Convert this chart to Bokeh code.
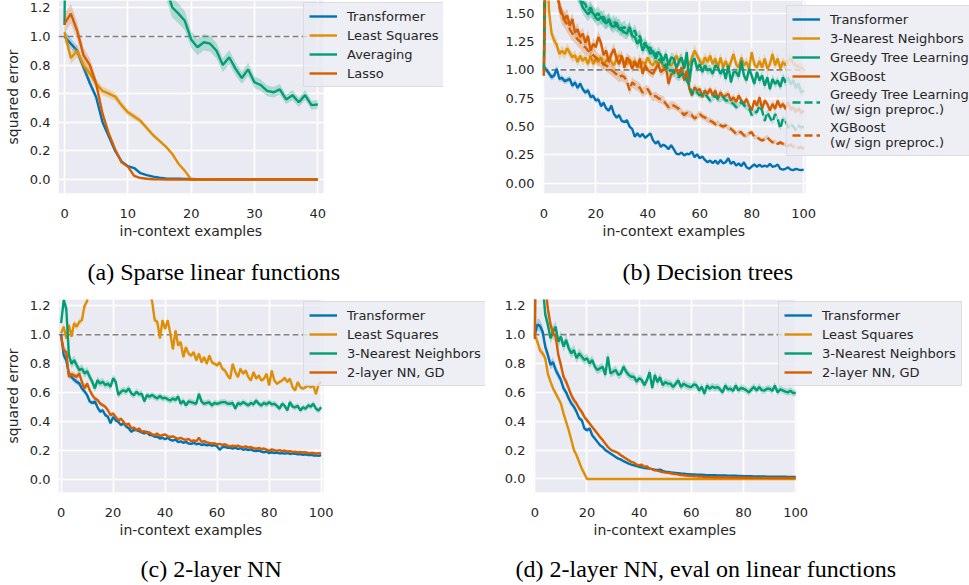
import numpy as np
from bokeh.plotting import figure
from bokeh.layouts import column, row
from bokeh.models import (Range1d, FixedTicker, PrintfTickFormatter, BoxAnnotation,
                          Legend, LegendItem, Title)
from bokeh.embed import file_html
from bokeh.resources import INLINE

BLUE = "#0173B2"
ORANGE = "#DE8F05"
GREEN = "#029E73"
RED = "#D55E00"
TXT = "#262626"

# ---------------- (a) Sparse linear functions ----------------
a_xticks = [0, 10, 20, 30, 40]
a_yticks = [0.0, 0.2, 0.4, 0.6, 0.8, 1.0, 1.2]
a_transformer = [1.00, 0.95, 0.90, 0.785, 0.675, 0.575, 0.40, 0.30, 0.20, 0.126,
                 0.093, 0.08, 0.044, 0.03, 0.02, 0.012, 0.008, 0.006, 0.005, 0.004,
                 0.003, 0.002, 0.001, 0.001, 0.0, 0.0, 0.0, 0.0, 0.0, 0.0,
                 0.0, 0.0, 0.0, 0.0, 0.0, 0.0, 0.0, 0.0, 0.0, 0.0,
                 0.0]
a_least_squares = [1.03, 0.85, 0.90, 0.80, 0.74, 0.67, 0.62, 0.60, 0.58, 0.52,
                   0.47, 0.44, 0.41, 0.36, 0.31, 0.27, 0.23, 0.18, 0.11, 0.06,
                   0.0, 0.0, 0.0, 0.0, 0.0, 0.0, 0.0, 0.0, 0.0, 0.0,
                   0.0, 0.0, 0.0, 0.0, 0.0, 0.0, 0.0, 0.0, 0.0, 0.0,
                   0.0]
a_averaging = [1.08, 6.0, 4.5, 3.6, 3.0, 2.6, 2.3, 2.1, 1.95, 1.8,
               1.7, 1.62, 1.55, 1.49, 1.44, 1.40, 1.35, 1.205, 1.16, 1.11,
               0.98, 0.925, 0.96, 0.95, 0.90, 0.80, 0.855, 0.775, 0.71, 0.77,
               0.68, 0.66, 0.62, 0.61, 0.63, 0.56, 0.59, 0.54, 0.59, 0.52,
               0.525]
a_lasso = [1.09, 1.16, 1.04, 0.87, 0.80, 0.67, 0.46, 0.32, 0.21, 0.12,
           0.09, 0.025, 0.01, 0.005, 0.002, 0.001, 0.0, 0.0, 0.0, 0.0,
           0.0, 0.0, 0.0, 0.0, 0.0, 0.0, 0.0, 0.0, 0.0, 0.0,
           0.0, 0.0, 0.0, 0.0, 0.0, 0.0, 0.0, 0.0, 0.0, 0.0,
           0.0]

# ---------------- (b) Decision trees ----------------
b_xticks = [0, 20, 40, 60, 80, 100]
b_yticks = [0.0, 0.25, 0.5, 0.75, 1.0, 1.25, 1.5]
b_transformer = [1.03, 1.00, 0.97, 0.935, 0.95, 1.01, 0.92, 0.93, 0.90, 0.91,
                 0.92, 0.86, 0.89, 0.84, 0.88, 0.83, 0.80, 0.82, 0.76, 0.77,
                 0.73, 0.74, 0.68, 0.71, 0.66, 0.64, 0.685, 0.61, 0.58, 0.60,
                 0.55, 0.54, 0.555, 0.50, 0.48, 0.41, 0.44, 0.41, 0.435, 0.40,
                 0.42, 0.44, 0.38, 0.35, 0.37, 0.32, 0.34, 0.325, 0.30, 0.335,
                 0.30, 0.26, 0.255, 0.27, 0.245, 0.26, 0.255, 0.28, 0.23, 0.255,
                 0.22, 0.235, 0.205, 0.185, 0.20, 0.177, 0.20, 0.17, 0.205, 0.175,
                 0.185, 0.22, 0.17, 0.19, 0.155, 0.175, 0.15, 0.185, 0.14, 0.127,
                 0.147, 0.165, 0.145, 0.163, 0.145, 0.155, 0.145, 0.17, 0.145, 0.15,
                 0.165, 0.127, 0.12, 0.127, 0.14, 0.12, 0.115, 0.127, 0.12, 0.115,
                 0.12]
b_knn = [0.95, 2.2, 1.52, 1.32, 1.26, 1.22, 1.14, 1.17, 1.14, 1.19,
         1.15, 1.11, 1.13, 1.07, 1.125, 1.08, 1.11, 1.05, 1.125, 1.05,
         1.10, 1.07, 1.11, 1.04, 1.08, 1.11, 1.07, 1.04, 1.10, 1.13,
         1.11, 1.06, 1.05, 1.09, 1.06, 1.08, 1.04, 1.02, 1.07, 1.05,
         1.11, 1.06, 1.04, 1.08, 1.05, 1.08, 1.03, 1.02, 1.06, 1.04,
         1.07, 1.126, 1.07, 1.11, 1.02, 1.08, 1.04, 1.11, 1.17, 1.126,
         1.08, 1.05, 1.11, 1.07, 1.126, 1.05, 1.10, 1.02, 1.11, 1.02,
         1.08, 1.01, 1.07, 1.14, 1.05, 1.02, 1.11, 1.04, 1.07, 1.01,
         1.156, 1.05, 1.02, 1.08, 1.02, 1.10, 1.01, 1.05, 1.14, 1.04,
         1.10, 1.01, 1.07, 1.04, 1.08, 1.10, 1.06, 1.04, 1.03, 1.02,
         1.01]
b_greedy = [1.0, 3.0, 2.6, 2.4, 2.2, 2.1, 2.0, 1.95, 1.9, 1.85,
            1.80, 1.75, 1.72, 1.68, 1.62, 1.55, 1.52, 1.49, 1.52, 1.50,
            1.46, 1.44, 1.47, 1.43, 1.41, 1.44, 1.39, 1.38, 1.42, 1.36,
            1.35, 1.33, 1.32, 1.38, 1.30, 1.29, 1.23, 1.27, 1.17, 1.22,
            1.20, 1.14, 1.17, 1.10, 1.16, 1.13, 1.08, 1.14, 1.04, 1.11,
            1.10, 1.02, 1.07, 1.11, 1.01, 1.156, 0.89, 1.07, 1.10, 1.01,
            1.05, 0.98, 1.04, 0.994, 1.01, 0.965, 1.04, 1.02, 0.965, 1.01,
            0.92, 1.04, 0.89, 0.98, 0.98, 0.94, 1.08, 0.95, 0.906, 1.01,
            0.95, 0.876, 0.98, 0.906, 0.95, 0.86, 0.935, 0.83, 0.92, 0.876,
            0.906, 0.85, 0.935, 0.89, 0.935, 0.87, 0.91, 0.84, 0.88, 0.80,
            0.82]
b_xgboost = [0.95, 2.8, 2.4, 2.1, 1.9, 1.7, 1.57, 1.495, 1.45, 1.48,
             1.39, 1.45, 1.33, 1.36, 1.29, 1.32, 1.24, 1.30, 1.17, 1.23,
             1.20, 1.29, 1.24, 1.13, 1.17, 1.07, 1.14, 1.185, 1.10, 1.05,
             1.126, 1.02, 1.11, 1.08, 1.01, 1.07, 1.024, 1.10, 0.965, 1.04,
             1.00, 0.98, 0.965, 1.01, 1.05, 0.98, 1.00, 1.024, 0.876, 0.96,
             0.98, 1.01, 0.95, 1.024, 0.906, 0.994, 0.832, 0.774, 0.847, 0.818,
             0.832, 0.759, 0.818, 0.788, 0.832, 0.774, 0.818, 0.744, 0.803, 0.759,
             0.774, 0.788, 0.729, 0.759, 0.715, 0.774, 0.729, 0.70, 0.744, 0.685,
             0.641, 0.729, 0.685, 0.759, 0.656, 0.729, 0.70, 0.641, 0.70, 0.656,
             0.729, 0.67, 0.70, 0.656, 0.715, 0.65, 0.67, 0.63, 0.66, 0.62,
             0.64]
b_greedy_sign = [1.0, 3.5, 3.0, 2.7, 2.4, 2.2, 2.05, 1.95, 1.88, 1.82,
                 1.78, 1.74, 1.70, 1.67, 1.64, 1.60, 1.58, 1.52, 1.55, 1.50,
                 1.48, 1.50, 1.45, 1.47, 1.42, 1.45, 1.40, 1.43, 1.38, 1.40,
                 1.36, 1.38, 1.34, 1.36, 1.31, 1.35, 1.28, 1.30, 1.22, 1.24,
                 1.18, 1.20, 1.12, 1.15, 1.08, 1.10, 1.03, 1.05, 0.98, 1.00,
                 0.98, 0.95, 0.935, 0.96, 0.965, 0.906, 0.87, 0.788, 0.818, 0.80,
                 0.774, 0.79, 0.788, 0.76, 0.729, 0.75, 0.774, 0.74, 0.744, 0.76,
                 0.729, 0.73, 0.715, 0.70, 0.67, 0.69, 0.715, 0.69, 0.67, 0.66,
                 0.60, 0.63, 0.626, 0.685, 0.641, 0.55, 0.626, 0.58, 0.54, 0.61,
                 0.57, 0.48, 0.57, 0.55, 0.49, 0.52, 0.50, 0.47, 0.51, 0.49,
                 0.50]
b_xgboost_sign = [0.95, 3.0, 2.5, 2.2, 1.9, 1.7, 1.55, 1.47, 1.44, 1.40,
                  1.36, 1.32, 1.30, 1.27, 1.25, 1.21, 1.20, 1.17, 1.156, 1.13,
                  1.11, 1.09, 1.07, 1.05, 1.04, 1.02, 1.00, 0.98, 0.96, 0.935,
                  0.95, 0.935, 0.90, 0.82, 0.89, 0.87, 0.86, 0.84, 0.80, 0.82,
                  0.83, 0.79, 0.76, 0.77, 0.75, 0.74, 0.73, 0.70, 0.67, 0.69,
                  0.685, 0.67, 0.656, 0.63, 0.60, 0.62, 0.61, 0.60, 0.57, 0.59,
                  0.61, 0.59, 0.58, 0.56, 0.55, 0.54, 0.52, 0.53, 0.51, 0.50,
                  0.51, 0.49, 0.48, 0.46, 0.435, 0.45, 0.45, 0.42, 0.42, 0.44,
                  0.45, 0.41, 0.405, 0.39, 0.376, 0.39, 0.405, 0.38, 0.36, 0.37,
                  0.347, 0.36, 0.347, 0.34, 0.33, 0.34, 0.32, 0.33, 0.31, 0.32,
                  0.30]

# ---------------- (c) 2-layer NN ----------------
c_xticks = [0, 20, 40, 60, 80, 100]
c_yticks = [0.0, 0.2, 0.4, 0.6, 0.8, 1.0, 1.2]
c_transformer = [1.00, 0.86, 0.825, 0.73, 0.71, 0.69, 0.675, 0.665, 0.63, 0.61,
                 0.585, 0.54, 0.53, 0.54, 0.50, 0.47, 0.48, 0.446, 0.435, 0.389,
                 0.434, 0.41, 0.40, 0.377, 0.39, 0.367, 0.355, 0.331, 0.343, 0.343,
                 0.336, 0.327, 0.32, 0.331, 0.308, 0.308, 0.297, 0.297, 0.285, 0.29,
                 0.28, 0.29, 0.275, 0.27, 0.278, 0.26, 0.265, 0.255, 0.262, 0.25,
                 0.248, 0.255, 0.245, 0.25, 0.24, 0.245, 0.238, 0.242, 0.235, 0.24,
                 0.23, 0.207, 0.225, 0.228, 0.22, 0.22, 0.215, 0.222, 0.212, 0.218,
                 0.207, 0.212, 0.205, 0.21, 0.20, 0.198, 0.202, 0.195, 0.19, 0.195,
                 0.184, 0.19, 0.185, 0.188, 0.182, 0.184, 0.18, 0.185, 0.178, 0.182,
                 0.18, 0.175, 0.178, 0.172, 0.176, 0.17, 0.172, 0.168, 0.168, 0.165,
                 0.17]
c_least_squares = [1.01, 1.055, 0.975, 1.067, 0.986, 1.08, 1.055, 1.09, 1.10, 1.20,
                   1.23, 1.45, 1.7, 2.0, 2.5, 3.0, 4.0, 5.5, 8.0, 15.0,
                   30.0, 15.0, 8.0, 5.5, 4.0, 3.2, 2.6, 2.2, 1.95, 1.75,
                   1.6, 1.5, 1.42, 1.36, 1.30, 1.23, 1.10, 1.09, 0.975, 1.10,
                   1.04, 1.10, 1.007, 0.90, 1.03, 0.926, 0.95, 0.846, 0.915, 0.87,
                   0.857, 0.88, 0.823, 0.87, 0.81, 0.846, 0.80, 0.857, 0.81, 0.80,
                   0.789, 0.81, 0.766, 0.754, 0.72, 0.697, 0.80, 0.743, 0.708, 0.766,
                   0.731, 0.754, 0.708, 0.685, 0.743, 0.697, 0.72, 0.685, 0.697, 0.731,
                   0.65, 0.754, 0.685, 0.662, 0.674, 0.685, 0.703, 0.674, 0.697, 0.639,
                   0.616, 0.674, 0.639, 0.628, 0.639, 0.65, 0.639, 0.65, 0.59, 0.662,
                   0.674]
c_knn = [1.08, 1.24, 1.18, 0.86, 0.80, 0.825, 0.79, 0.756, 0.768, 0.733,
         0.75, 0.71, 0.676, 0.63, 0.687, 0.664, 0.676, 0.653, 0.664, 0.641,
         0.70, 0.676, 0.584, 0.607, 0.618, 0.607, 0.63, 0.595, 0.584, 0.607,
         0.589, 0.595, 0.54, 0.584, 0.572, 0.584, 0.572, 0.561, 0.579, 0.561,
         0.566, 0.555, 0.547, 0.56, 0.55, 0.575, 0.524, 0.545, 0.513, 0.54,
         0.536, 0.53, 0.524, 0.593, 0.54, 0.524, 0.53, 0.535, 0.513, 0.53,
         0.524, 0.53, 0.536, 0.536, 0.525, 0.524, 0.53, 0.49, 0.53, 0.52,
         0.536, 0.525, 0.513, 0.53, 0.52, 0.547, 0.525, 0.513, 0.53, 0.52,
         0.536, 0.52, 0.524, 0.51, 0.49, 0.524, 0.51, 0.478, 0.536, 0.505,
         0.50, 0.51, 0.478, 0.50, 0.49, 0.513, 0.505, 0.524, 0.49, 0.478,
         0.50]
c_nn_gd = [0.99, 0.895, 0.88, 0.71, 0.73, 0.72, 0.71, 0.733, 0.676, 0.63,
           0.664, 0.618, 0.584, 0.56, 0.55, 0.526, 0.515, 0.503, 0.48, 0.446,
           0.457, 0.434, 0.411, 0.42, 0.40, 0.377, 0.388, 0.354, 0.36, 0.343,
           0.354, 0.331, 0.336, 0.32, 0.327, 0.313, 0.308, 0.319, 0.302, 0.308,
           0.313, 0.30, 0.295, 0.30, 0.29, 0.283, 0.29, 0.28, 0.275, 0.282,
           0.267, 0.272, 0.265, 0.29, 0.262, 0.267, 0.258, 0.255, 0.25, 0.252,
           0.244, 0.248, 0.24, 0.245, 0.236, 0.23, 0.235, 0.232, 0.236, 0.228,
           0.225, 0.23, 0.222, 0.226, 0.218, 0.214, 0.22, 0.212, 0.216, 0.208,
           0.20, 0.21, 0.204, 0.20, 0.205, 0.198, 0.202, 0.195, 0.198, 0.192,
           0.194, 0.19, 0.192, 0.188, 0.19, 0.184, 0.186, 0.185, 0.18, 0.184,
           0.182]

# ---------------- (d) 2-layer NN, eval on linear functions ----------------
d_xticks = [0, 20, 40, 60, 80, 100]
d_yticks = [0.0, 0.2, 0.4, 0.6, 0.8, 1.0, 1.2]
d_transformer = [1.0, 1.07, 1.06, 1.02, 0.917, 0.86, 0.79, 0.81, 0.755, 0.72,
                 0.685, 0.627, 0.60, 0.558, 0.523, 0.50, 0.465, 0.42, 0.407, 0.35,
                 0.338, 0.35, 0.303, 0.28, 0.257, 0.234, 0.222, 0.20, 0.188, 0.176,
                 0.164, 0.152, 0.141, 0.135, 0.123, 0.115, 0.106, 0.10, 0.095, 0.09,
                 0.083, 0.08, 0.076, 0.074, 0.072, 0.068, 0.064, 0.062, 0.065, 0.056,
                 0.05, 0.048, 0.046, 0.044, 0.042, 0.04, 0.038, 0.037, 0.035, 0.034,
                 0.032, 0.031, 0.030, 0.029, 0.029, 0.028, 0.027, 0.027, 0.026, 0.026,
                 0.025, 0.025, 0.024, 0.024, 0.023, 0.023, 0.022, 0.022, 0.021, 0.021,
                 0.02, 0.02, 0.019, 0.019, 0.018, 0.018, 0.018, 0.017, 0.017, 0.016,
                 0.016, 0.016, 0.016, 0.015, 0.015, 0.015, 0.015, 0.014, 0.014, 0.014,
                 0.014]
d_least_squares = [1.0, 0.95, 0.89, 0.87, 0.836, 0.73, 0.674, 0.627, 0.593, 0.558,
                   0.523, 0.454, 0.396, 0.338, 0.27, 0.20, 0.164, 0.118, 0.072, 0.037,
                   0.0, 0.0, 0.0, 0.0, 0.0, 0.0, 0.0, 0.0, 0.0, 0.0,
                   0.0, 0.0, 0.0, 0.0, 0.0, 0.0, 0.0, 0.0, 0.0, 0.0,
                   0.0, 0.0, 0.0, 0.0, 0.0, 0.0, 0.0, 0.0, 0.0, 0.0,
                   0.0, 0.0, 0.0, 0.0, 0.0, 0.0, 0.0, 0.0, 0.0, 0.0,
                   0.0, 0.0, 0.0, 0.0, 0.0, 0.0, 0.0, 0.0, 0.0, 0.0,
                   0.0, 0.0, 0.0, 0.0, 0.0, 0.0, 0.0, 0.0, 0.0, 0.0,
                   0.0, 0.0, 0.0, 0.0, 0.0, 0.0, 0.0, 0.0, 0.0, 0.0,
                   0.0, 0.0, 0.0, 0.0, 0.0, 0.0, 0.0, 0.0, 0.0, 0.0,
                   0.0]
d_knn = [0.975, 3.5, 2.0, 1.35, 1.14, 1.07, 0.975, 1.02, 1.055, 0.95,
         0.986, 0.917, 0.963, 0.905, 0.87, 0.893, 0.836, 0.87, 0.847, 0.824,
         0.836, 0.80, 0.824, 0.778, 0.755, 0.766, 0.778, 0.72, 0.847, 0.73,
         0.743, 0.755, 0.72, 0.73, 0.778, 0.743, 0.72, 0.708, 0.708, 0.674,
         0.697, 0.685, 0.65, 0.685, 0.74, 0.63, 0.72, 0.671, 0.706, 0.65,
         0.671, 0.66, 0.66, 0.637, 0.66, 0.683, 0.637, 0.66, 0.648, 0.64,
         0.637, 0.655, 0.648, 0.613, 0.64, 0.59, 0.648, 0.625, 0.64, 0.63,
         0.637, 0.62, 0.60, 0.648, 0.62, 0.625, 0.61, 0.648, 0.613, 0.63,
         0.625, 0.615, 0.60, 0.62, 0.637, 0.613, 0.637, 0.615, 0.613, 0.625,
         0.625, 0.61, 0.648, 0.60, 0.62, 0.613, 0.605, 0.60, 0.61, 0.595,
         0.595]
d_nn_gd = [0.97, 3.0, 2.2, 1.7, 1.35, 1.18, 1.07, 1.01, 0.986, 0.86,
           0.79, 0.708, 0.674, 0.627, 0.58, 0.546, 0.523, 0.488, 0.465, 0.43,
           0.407, 0.384, 0.36, 0.338, 0.315, 0.29, 0.27, 0.245, 0.222, 0.204,
           0.194, 0.188, 0.18, 0.164, 0.153, 0.141, 0.13, 0.118, 0.113, 0.10,
           0.095, 0.10, 0.083, 0.088, 0.072, 0.068, 0.06, 0.058, 0.052, 0.048,
           0.044, 0.042, 0.04, 0.036, 0.034, 0.03, 0.028, 0.026, 0.024, 0.022,
           0.02, 0.019, 0.018, 0.017, 0.016, 0.014, 0.014, 0.013, 0.013, 0.012,
           0.012, 0.012, 0.011, 0.011, 0.011, 0.010, 0.010, 0.010, 0.010, 0.010,
           0.010, 0.009, 0.009, 0.009, 0.009, 0.008, 0.008, 0.008, 0.008, 0.008,
           0.007, 0.007, 0.007, 0.007, 0.007, 0.007, 0.007, 0.007, 0.007, 0.007,
           0.007]


def make_fig(plot_x, x_end, yr, xticks, yticks, yfmt, w, h, bl, br, bt, bb,
             ylabel=None):
    # the frame is widened to the right so that the legend (which in the
    # original overhangs the axes) can be drawn inside it; the grey axes area
    # itself only covers plot_x.
    p = figure(width=w, height=h,
               min_border_left=bl, min_border_right=br,
               min_border_top=bt, min_border_bottom=bb,
               x_range=Range1d(plot_x[0], x_end), y_range=Range1d(*yr),
               output_backend="svg", toolbar_location=None,
               background_fill_color="white", border_fill_color="white",
               outline_line_color=None)
    p.add_layout(BoxAnnotation(left=plot_x[0], right=plot_x[1],
                               fill_color="#EAEAF2", fill_alpha=1.0,
                               line_color=None, level="image"))
    p.xaxis.ticker = FixedTicker(ticks=xticks)
    p.yaxis.ticker = FixedTicker(ticks=yticks)
    p.xaxis.formatter = PrintfTickFormatter(format="%d")
    p.yaxis.formatter = PrintfTickFormatter(format=yfmt)
    for ax in (p.xaxis[0], p.yaxis[0]):
        ax.axis_line_color = None
        ax.major_tick_line_color = None
        ax.minor_tick_line_color = None
        ax.major_tick_out = 0
        ax.major_tick_in = 0
        ax.minor_tick_out = 0
        ax.minor_tick_in = 0
        ax.major_label_text_font = "DejaVu Sans"
        ax.major_label_text_font_size = "13px"
        ax.major_label_text_color = TXT
        ax.axis_label_text_font = "DejaVu Sans"
        ax.axis_label_text_font_size = "14px"
        ax.axis_label_text_font_style = "normal"
        ax.axis_label_text_color = TXT
    p.xaxis.major_label_standoff = 15
    p.yaxis.major_label_standoff = 8
    if ylabel:
        p.yaxis.axis_label = ylabel
        p.yaxis.axis_label_standoff = 6
    for g in (p.xgrid[0], p.ygrid[0]):
        g.grid_line_color = "white"
        g.grid_line_width = 1.6
    # dashed reference line (error of the zero estimator) across the axes
    p.line(x=list(plot_x), y=[1.0, 1.0], line_color="#808080",
           line_width=1.6, line_dash="6 3")
    return p


def add_series(p, y, color, label, frac, dash="solid"):
    y = np.asarray(y, dtype=float)
    x = np.arange(len(y))
    p.varea(x=x, y1=y * (1 - frac), y2=y * (1 + frac),
            fill_color=color, fill_alpha=0.25)
    r = p.line(x, y, line_color=color, line_width=2.4, line_dash=dash)
    return LegendItem(label=label, renderers=[r])


def add_legend(p, items, loc):
    lg = Legend(items=items, location=loc,
                label_text_font="DejaVu Sans", label_text_font_size="13px",
                label_text_color=TXT, label_standoff=10,
                glyph_width=28, glyph_height=16, label_height=16,
                spacing=3, padding=5, margin=0,
                background_fill_color="#EAEAF2", background_fill_alpha=0.8,
                border_line_color="#CCCCCC", border_line_width=1)
    p.add_layout(lg)


def add_bottom_texts(p, xoff, cap, capoff, gap_px):
    p.add_layout(Title(text="in-context examples", align="left", offset=xoff,
                       standoff=0, text_font="DejaVu Sans",
                       text_font_size="14px", text_font_style="normal",
                       text_color=TXT), "below")
    # blank spacer between the axis label and the caption
    p.add_layout(Title(text=" ", align="left", standoff=0,
                       text_font="DejaVu Sans", text_font_size=gap_px,
                       text_color="white"), "below")
    p.add_layout(Title(text=cap, align="left", offset=capoff, standoff=0,
                       text_font="Liberation Serif",
                       text_font_size="24px", text_font_style="normal",
                       text_color="black"), "below")


# (a)  frame x 58..443, y 0..193 ; figure 488 x 291
pa = make_fig((-0.95, 40.9), 59.85, (-0.098, 1.252), a_xticks, a_yticks, "%.1f",
              488, 291, 58, 45, 0, 98, ylabel="squared error")
items = [add_series(pa, a_transformer, BLUE, "Transformer", 0.04),
         add_series(pa, a_least_squares, ORANGE, "Least Squares", 0.05),
         add_series(pa, a_averaging, GREEN, "Averaging", 0.06),
         add_series(pa, a_lasso, RED, "Lasso", 0.06)]
add_legend(pa, items, (245, 106))
add_bottom_texts(pa, 61, "(a) Sparse linear functions", 29, "14px")

# (b)  frame x 542..969, y 0..193 ; figure 481 x 291
pb = make_fig((-0.5, 100.7), 163.8, (-0.091, 1.6125), b_xticks, b_yticks, "%.2f",
              481, 291, 54, 0, 0, 98)
items = [add_series(pb, b_transformer, BLUE, "Transformer", 0.03),
         add_series(pb, b_knn, ORANGE, "3-Nearest Neighbors", 0.04),
         add_series(pb, b_greedy, GREEN, "Greedy Tree Learning", 0.04),
         add_series(pb, b_xgboost, RED, "XGBoost", 0.04),
         add_series(pb, b_greedy_sign, GREEN, "Greedy Tree Learning\n(w/ sign preproc.)", 0.04, dash="8 4"),
         add_series(pb, b_xgboost_sign, RED, "XGBoost\n(w/ sign preproc.)", 0.05, dash="8 4")]
add_legend(pb, items, (244, 37))
add_bottom_texts(pb, 60, "(b) Decision trees", 80, "14px")

# (c)  frame x 58..485, y 299..492 ; figure 488 x 294 starting at y 291
pc = make_fig((-1.0, 100.9), 163.2, (-0.0876, 1.2434), c_xticks, c_yticks, "%.1f",
              488, 294, 58, 3, 8, 93, ylabel="squared error")
items = [add_series(pc, c_transformer, BLUE, "Transformer", 0.03),
         add_series(pc, c_least_squares, ORANGE, "Least Squares", 0.02),
         add_series(pc, c_knn, GREEN, "3-Nearest Neighbors", 0.04),
         add_series(pc, c_nn_gd, RED, "2-layer NN, GD", 0.03)]
add_legend(pc, items, (245, 106))
add_bottom_texts(pc, 61, "(c) 2-layer NN", 82, "12px")

# (d)  frame x 533..969, y 299..492 ; figure 481 x 294
pd_ = make_fig((-0.5, 100.3), 166.6, (-0.0936, 1.2429), d_xticks, d_yticks, "%.1f",
               481, 294, 45, 0, 8, 93)
items = [add_series(pd_, d_transformer, BLUE, "Transformer", 0.04),
         add_series(pd_, d_least_squares, ORANGE, "Least Squares", 0.03),
         add_series(pd_, d_knn, GREEN, "3-Nearest Neighbors", 0.04),
         add_series(pd_, d_nn_gd, RED, "2-layer NN, GD", 0.04)]
add_legend(pd_, items, (245, 106))
add_bottom_texts(pd_, 60, "(d) 2-layer NN, eval on linear functions", -18, "12px")

layout = column(row(pa, pb), row(pc, pd_))
open("out.html", "w").write(file_html(layout, INLINE))
